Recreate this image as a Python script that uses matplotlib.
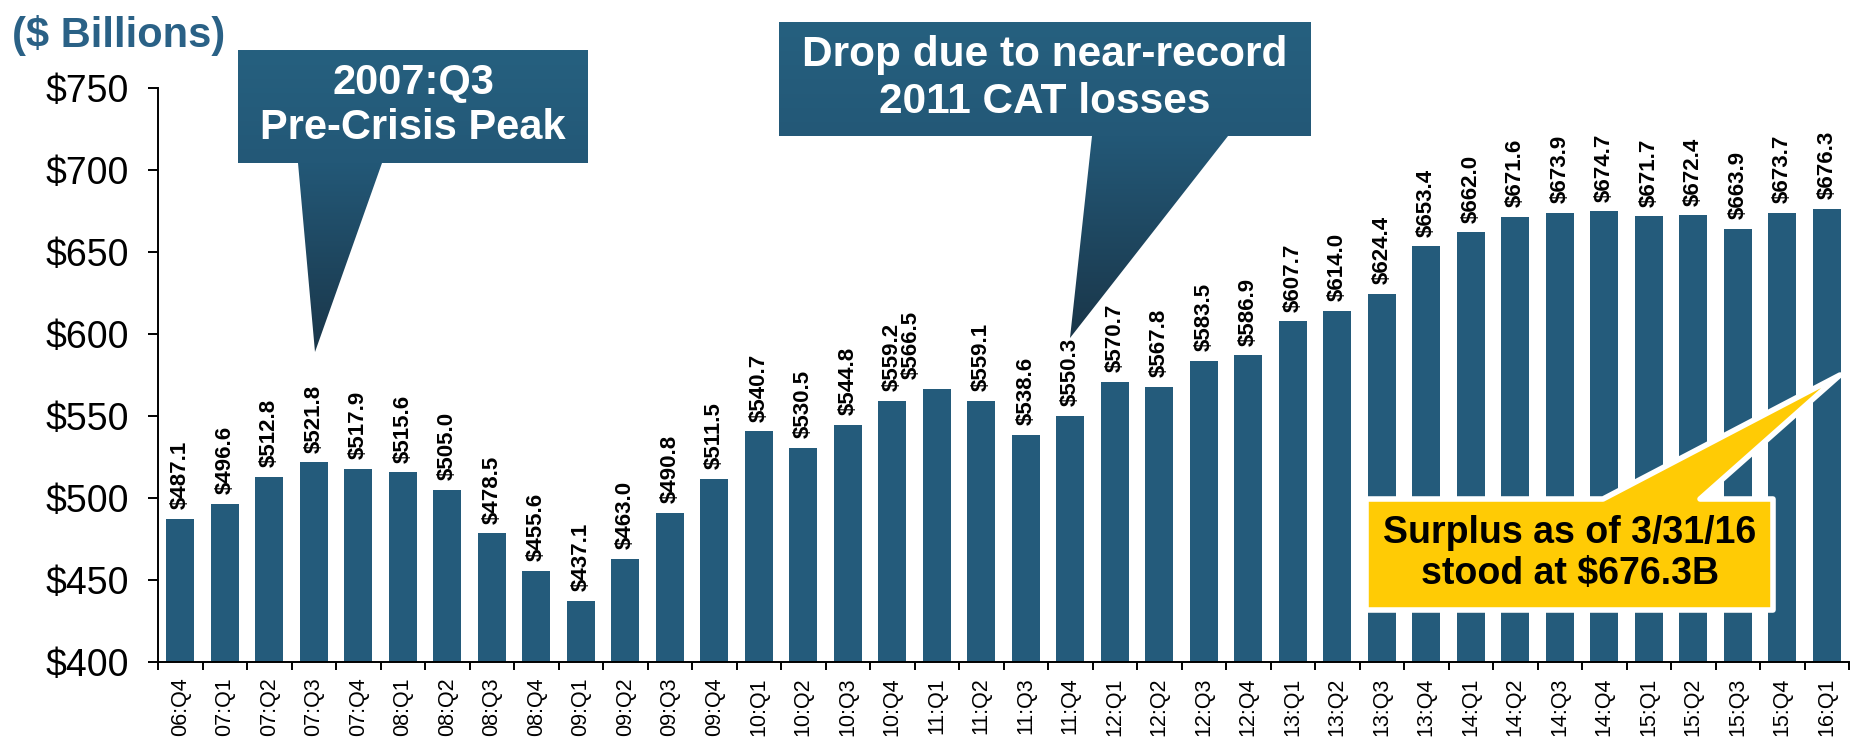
import numpy as np
import matplotlib.pyplot as plt
from matplotlib.patches import Polygon
from matplotlib.colors import LinearSegmentedColormap

plt.rcParams['font.family'] = ['Liberation Sans', 'DejaVu Sans']

quarters = ["06:Q4",
            "07:Q1", "07:Q2", "07:Q3", "07:Q4",
            "08:Q1", "08:Q2", "08:Q3", "08:Q4",
            "09:Q1", "09:Q2", "09:Q3", "09:Q4",
            "10:Q1", "10:Q2", "10:Q3", "10:Q4",
            "11:Q1", "11:Q2", "11:Q3", "11:Q4",
            "12:Q1", "12:Q2", "12:Q3", "12:Q4",
            "13:Q1", "13:Q2", "13:Q3", "13:Q4",
            "14:Q1", "14:Q2", "14:Q3", "14:Q4",
            "15:Q1", "15:Q2", "15:Q3", "15:Q4",
            "16:Q1"]
surplus = [487.1,
           496.6, 512.8, 521.8, 517.9,
           515.6, 505.0, 478.5, 455.6,
           437.1, 463.0, 490.8, 511.5,
           540.7, 530.5, 544.8, 559.2,
           566.5, 559.1, 538.6, 550.3,
           570.7, 567.8, 583.5, 586.9,
           607.7, 614.0, 624.4, 653.4,
           662.0, 671.6, 673.9, 674.7,
           671.7, 672.4, 663.9, 673.7,
           676.3]
yticks = [400, 450, 500, 550, 600, 650, 700, 750]

BAR = "#245b7b"
TITLE = "#2a6186"
YELLOW = "#ffcb05"

W, H = 1852, 740
fig = plt.figure(figsize=(W / 100, H / 100), dpi=100)
ax = fig.add_axes([158 / W, 1 - 662 / H, (1849 - 158) / W, (662 - 88) / H])

x = np.arange(len(quarters))
ax.bar(x, surplus, width=0.63, color=BAR, zorder=2)
ax.set_xlim(-0.5, len(quarters) - 0.5)
ax.set_ylim(400, 750)

ax.set_yticks(yticks)
ax.set_yticklabels(["$%d" % v for v in yticks], fontsize=27)
ax.tick_params(axis="y", length=7.2, width=1.4, pad=14)

ax.set_xticks(x)
ax.set_xticklabels(quarters, rotation=90, fontsize=15.5)
ax.tick_params(axis="x", which="major", length=0, pad=11)
ax.set_xticks(np.arange(-0.5, len(quarters)), minor=True)
ax.tick_params(axis="x", which="minor", length=6, width=1.4)

for s in ["top", "right"]:
    ax.spines[s].set_visible(False)
for s in ["left", "bottom"]:
    ax.spines[s].set_linewidth(1.4)

# value labels; 11:Q1 is nudged left as in the source slide
for i, v in enumerate(surplus):
    dx = -0.58 if quarters[i] == "11:Q1" else 0
    ax.annotate("$%.1f" % v, (x[i] + dx, v), xytext=(0, 7),
                textcoords="offset points", rotation=90,
                ha="center", va="bottom", fontsize=16, fontweight="bold")

fig.text(12 / W, 1 - 35 / H, "($ Billions)", fontsize=30, fontweight="bold",
         color=TITLE, ha="left", va="center")

# overlay in pixel coordinates for the callouts
ov = fig.add_axes([0, 0, 1, 1], zorder=5)
ov.set_xlim(0, W)
ov.set_ylim(H, 0)
ov.axis("off")
ov.patch.set_alpha(0)


def blue_callout(pts, box_top, box_bot, tip_y):
    poly = Polygon(pts, closed=True, facecolor="none", edgecolor="none")
    ov.add_patch(poly)
    span = tip_y - box_top
    f = (box_bot - box_top) / span
    cmap = LinearSegmentedColormap.from_list(
        "tail", [(0, "#26607f"), (f, "#235877"), (1, "#1a3649")])
    grad = np.linspace(0, 1, 256).reshape(-1, 1)
    xs = [p[0] for p in pts]
    im = ov.imshow(grad, cmap=cmap, aspect="auto",
                   extent=[min(xs), max(xs), tip_y, box_top],
                   interpolation="bilinear")
    im.set_clip_path(poly)


blue_callout([(238, 50), (588, 50), (588, 163), (382, 163), (315, 352),
              (298, 163), (238, 163)], 50, 163, 352)
ov.text(413, 83, "2007:Q3", color="white", fontsize=30, fontweight="bold",
        ha="center", va="center")
ov.text(413, 128, "Pre-Crisis Peak", color="white", fontsize=30,
        fontweight="bold", ha="center", va="center")

blue_callout([(779, 22), (1311, 22), (1311, 136), (1228, 136), (1070, 338),
              (1092, 136), (779, 136)], 22, 136, 338)
ov.text(1045, 55, "Drop due to near-record", color="white", fontsize=30.5,
        fontweight="bold", ha="center", va="center")
ov.text(1045, 102, "2011 CAT losses", color="white", fontsize=30.5,
        fontweight="bold", ha="center", va="center")

ov.add_patch(Polygon([(1366, 499), (1603, 499), (1840, 375), (1700, 499),
                      (1773, 499), (1773, 610), (1366, 610)], closed=True,
                     facecolor=YELLOW, edgecolor="white", linewidth=4,
                     joinstyle="round"))
ov.text(1570, 533, "Surplus as of 3/31/16", color="black", fontsize=27,
        fontweight="bold", ha="center", va="center")
ov.text(1570, 574, "stood at $676.3B", color="black", fontsize=27,
        fontweight="bold", ha="center", va="center")

fig.savefig("out.png", dpi=100)
